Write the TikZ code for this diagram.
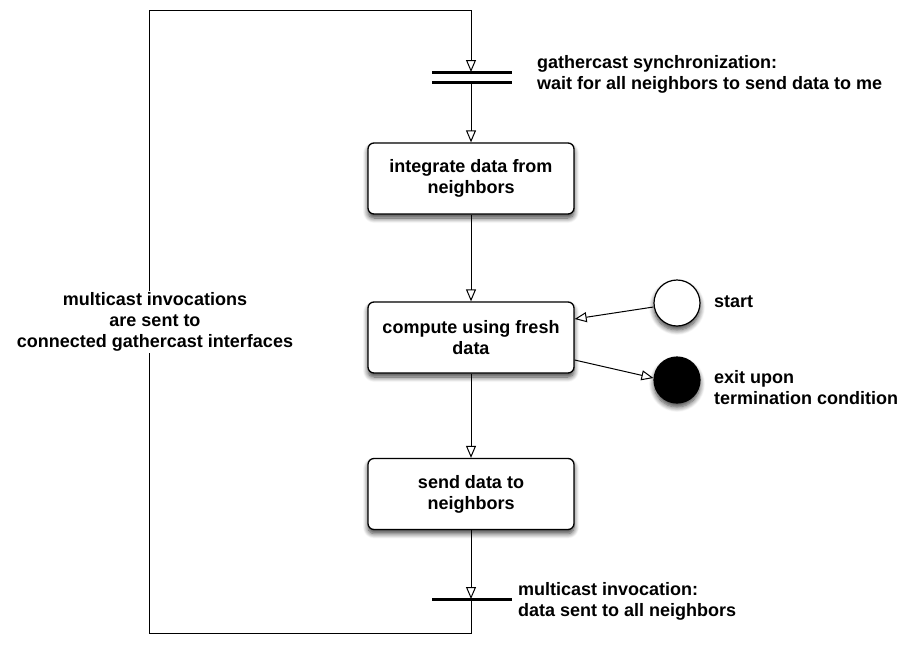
\documentclass[tikz,border=0pt]{standalone}
\usepackage{fontspec}
\setmainfont{Liberation Sans}
\usetikzlibrary{arrows.meta,shadows.blur}
\begin{document}
\begin{tikzpicture}[x=1pt,y=-1pt,
  font=\fontsize{18}{21}\selectfont\bfseries,
  every node/.style={inner sep=0pt},
  softshadow/.style={blur shadow={shadow xshift=0pt, shadow yshift=-4pt,
    shadow blur radius=5pt, shadow blur steps=8, shadow opacity=75}},
  flow/.style={draw=black, line width=1pt, -{Triangle[open,length=12pt,width=10pt]}},
  plain/.style={draw=black, line width=1pt},
  action/.style={draw=black, line width=1.3pt, fill=white, rounded corners=6pt,
    minimum width=206pt, minimum height=71pt, align=center, softshadow},
  startdot/.style={circle, draw=black, line width=1.2pt, fill=white, minimum size=46pt, softshadow},
  enddot/.style={circle, draw=black, line width=1.2pt, fill=black, minimum size=46pt, softshadow},
  bar/.style={line width=3pt},
  note/.style={align=left, anchor=west},
]
\useasboundingbox (0,0) rectangle (902,662);

% action boxes
\node[action] (integ) at (471,178.5) {integrate data from\\neighbors};
\node[action] (comp) at (471,337.5) {compute using fresh\\data};
\node[action] (send) at (471,494) {send data to\\neighbors};

% initial and final states
\node[startdot] (start) at (677,303) {};
\node[enddot] (exit) at (677,380) {};

% synchronization bars
\coordinate (gtop) at (471,72);
\coordinate (gbot) at (471,82);
\coordinate (mbar) at (471,599);
\draw[bar] (432,72) -- (512,72);
\draw[bar] (432,82) -- (512,82);
\draw[bar] (432,599) -- (512,599);

% loop corners
\coordinate (tr) at (471,10);
\coordinate (tl) at (149,10);
\coordinate (bl) at (149,633);
\coordinate (br) at (471,633);

% feedback loop, its label masking the left side
\draw[plain] (mbar) -- (br) -- (bl) -- (tl) -- (tr);
\node[fill=white, align=center, inner sep=2pt] (loopnote) at (155,322)
  {multicast invocations\\are sent to\\connected gathercast interfaces};
\draw[flow] (tr) -- (gtop);

% flow arrows
\draw[flow] (gbot) -- (integ.north);
\draw[flow] (integ.south) -- (comp.north);
\draw[flow] (comp.south) -- (send.north);
\draw[flow] (send.south) -- (mbar);
\draw[flow] (start.west |- 0,307) -- (comp.east |- 0,319);
\draw[flow] (comp.east |- 0,360) -- (exit.west |- 0,378);

% annotations
\node[note] (gnote) at (537,74) {gathercast synchronization:\\wait for all neighbors to send data to me};
\node[note] (snote) at (714,302) {start};
\node[note] (enote) at (714,388) {exit upon\\termination condition};
\node[note] (mnote) at (518,601) {multicast invocation:\\data sent to all neighbors};
\end{tikzpicture}
\end{document}
